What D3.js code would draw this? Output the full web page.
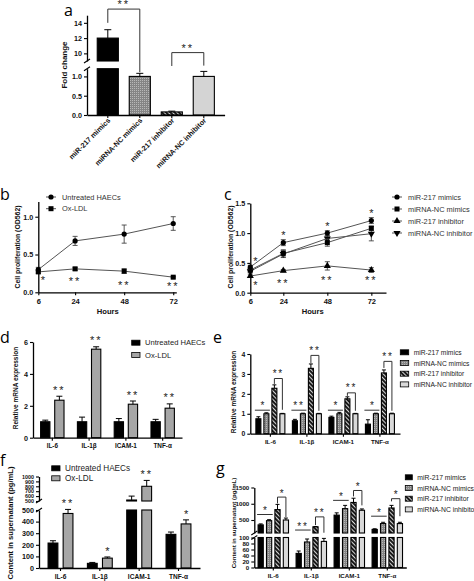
<!DOCTYPE html>
<html><head><meta charset="utf-8">
<script src="https://cdn.jsdelivr.net/npm/d3@7"></script>
<style>body{margin:0;background:#fff;} svg{display:block;font-family:"Liberation Sans",Arial,sans-serif;}</style>
</head><body>
<script>
// ---------------- DATA ----------------
// panel a
const aCats = ["miR-217 mimics","miRNA-NC mimics","miR-217 inhibitor","miRNA-NC inhibitor"];
const aFold = [12.0, 1.0, 0.08, 1.0];
const aSD   = [1.1, 0.08, 0.02, 0.13];
const aLowerTicks = [0, 0.5, 1.0];
const aUpperTicks = [10, 12, 14];
const aBrackets = [ {i:0, j:1, level:15.8, left:14.0, right:1.11, label:"**"},
                    {i:2, j:3, level:10.1, left:1.27, right:1.28, label:"**"} ];
// panel b
const hours = [6, 24, 48, 72];
const bUntreated = [0.30, 0.68, 0.77, 0.91];
const bUntreatedSD = [0.03, 0.06, 0.12, 0.09];
const bOxLDL = [0.27, 0.31, 0.28, 0.20];
const bOxLDLSD = [0.02, 0.02, 0.03, 0.01];
const bStars = ["*", "**", "**", "**"];
const bStarLevel = [0.19, 0.18, 0.12, 0.11];
const bTicks = [0, 0.5, 1.0];
// panel c
const cNames = ["miR-217 mimics","miRNA-NC mimics","miR-217 inhibitor","miRNA-NC inhibitor"];
const cMimics = [0.43, 0.84, 1.00, 1.21];
const cMimicsSD = [0.03, 0.05, 0.04, 0.05];
const cNCMimics = [0.38, 0.66, 0.84, 1.08];
const cNCMimicsSD = [0.03, 0.06, 0.06, 0.04];
const cInhibitor = [0.28, 0.37, 0.45, 0.38];
const cInhibitorSD = [0.02, 0.02, 0.07, 0.04];
const cNCInhibitor = [0.36, 0.65, 0.91, 0.99];
const cNCInhibitorSD = [0.03, 0.06, 0.04, 0.12];
const cTopStars = ["*", "*", "*", "*"];
const cTopLevel = [0.56, 1.01, 1.15, 1.38];
const cBottomStars = ["*", "**", "**", "**"];
const cBottomLevel = [0.17, 0.20, 0.24, 0.24];
const cTicks = [0, 0.5, 1.0, 1.5];
// panel d
const genes = ["IL-6", "IL-1β", "ICAM-1", "TNF-α"];
const dUntreated = [1.0, 1.0, 1.0, 1.0];
const dUntreatedSD = [0.10, 0.29, 0.20, 0.15];
const dOxLDL = [2.35, 5.55, 2.10, 1.85];
const dOxLDLSD = [0.25, 0.15, 0.20, 0.27];
const dStars = ["**", "**", "**", "**"];
const dTicks = [0, 2, 4, 6];
// panel e
const eMimics = [0.75, 0.65, 0.82, 0.48];
const eMimicsSD = [0.10, 0.07, 0.06, 0.22];
const eNCMimics = [1.0, 1.0, 1.0, 1.0];
const eNCMimicsSD = [0.05, 0.03, 0.07, 0.03];
const eInhibitor = [2.28, 3.28, 1.75, 3.05];
const eInhibitorSD = [0.17, 0.22, 0.10, 0.15];
const eNCInhibitor = [1.0, 1.0, 1.0, 1.0];
const eNCInhibitorSD = [0.02, 0.02, 0.02, 0.03];
const eLeftStars = ["*", "**", "*", "*"];
const eLeftLevel = [1.18, 1.18, 1.18, 1.18];
const eRightStars = ["**", "**", "**", "**"];
const eRightLevel = [2.77, 3.93, 2.05, 3.63];
const eRightLegs = [[2.5, 1.2], [3.55, 1.15], [1.9, 1.15], [3.3, 1.15]];
const eTicks = [0, 1, 2, 3, 4];
// panel f
const fUntreated = [215, 40, 520, 290];
const fUntreatedSD = [20, 8, 80, 20];
const fOxLDL = [470, 85, 800, 380];
const fOxLDLSD = [35, 10, 120, 35];
const fStars = ["**", "*", "**", "*"];
const fLowerTicks = [0, 100, 200, 300, 400, 500];
const fUpperTicks = [500, 600, 700, 800, 900, 1000];
// panel g
const gMimics = [350, 47, 650, 210];
const gMimicsSD = [30, 8, 70, 20];
const gNCMimics = [480, 85, 850, 390];
const gNCMimicsSD = [30, 10, 100, 40];
const gInhibitor = [820, 290, 1040, 870];
const gInhibitorSD = [160, 10, 130, 80];
const gNCInhibitor = [500, 87, 800, 390];
const gNCInhibitorSD = [60, 10, 40, 40];
const gLeftStars = ["*", "**", "*", "*"];
const gLeftLevel = [669, 191, 1104, 617];
const gRightStars = ["*", "**", "*", "*"];
const gRightLevel = [1205, 596, 1408, 1156];
const gRightLegs = [[1010, 590], [343, 108], [1226, 950], [1074, 617]];
const gLowerTicks = [0, 20, 40, 60, 80, 100];
const gUpperTicks = [500, 1000, 1500];

// ---------------- DRAWING ----------------
const svg = d3.select("body").append("svg").attr("width", 474).attr("height", 581);
const defs = svg.append("defs");
const pd = defs.append("pattern").attr("id","dots").attr("width",2).attr("height",2).attr("patternUnits","userSpaceOnUse");
pd.append("rect").attr("width",2).attr("height",2).attr("fill","#858585");
pd.append("rect").attr("width",1).attr("height",1).attr("fill","#b8b8b8");
const ph = defs.append("pattern").attr("id","hatch").attr("width",3).attr("height",3).attr("patternUnits","userSpaceOnUse").attr("patternTransform","rotate(-45)");
ph.append("rect").attr("width",3).attr("height",3).attr("fill","#1a1a1a");
ph.append("line").attr("x1",0.5).attr("y1",0).attr("x2",0.5).attr("y2",3).attr("stroke","#d8d8d8").attr("stroke-width",1);

const FOUR_FILLS = ["#000", "url(#dots)", "url(#hatch)", "#d9d9d9"];
const TWO_FILLS = ["#000", "#a6a6a6"];

function styleAxis(sel, fs) {
  sel.select(".domain").attr("stroke", "#000").attr("stroke-width", 1.3);
  sel.selectAll(".tick line").attr("stroke", "#000").attr("stroke-width", 1.1);
  sel.selectAll(".tick text").attr("font-size", fs).attr("font-weight", "bold").attr("fill", "#111")
     .attr("font-family", '"Liberation Sans", Arial, sans-serif');
}
function makeY(segs) {
  segs.forEach(s => s.scale = d3.scaleLinear().domain(s.d).range(s.r));
  const segOf = v => { let s = segs[0]; segs.forEach(t => { if (v > t.d[0]) s = t; }); return s; };
  return { segs, segOf, map: v => segOf(v).scale(v) };
}
function yAxes(g, Y, x, tickSets, fmts, fsList) {
  Y.segs.forEach((s, k) => {
    const ax = g.append("g").attr("transform", `translate(${x},0)`)
      .call(d3.axisLeft(s.scale).tickValues(tickSets[k]).tickFormat(fmts[k]).tickSize(3).tickSizeOuter(0).tickPadding(2));
    styleAxis(ax, fsList[k]);
  });
  for (let k = 0; k < Y.segs.length - 1; k++) {
    const yl = Y.segs[k].scale(Y.segs[k].d[1]);
    const yu = Y.segs[k + 1].scale(Y.segs[k + 1].d[0]);
    [yl, yu].forEach(yy => g.append("line").attr("x1", x - 3).attr("x2", x + 3).attr("y1", yy + 2).attr("y2", yy - 2)
      .attr("stroke", "#000").attr("stroke-width", 1.1));
  }
}
function bar(g, xc, w, v, e, Y, fill, capW) {
  Y.segs.forEach((s, k) => {
    const top = Math.min(v, s.d[1]);
    if (top > s.d[0]) {
      g.append("rect").attr("x", xc - w / 2).attr("width", w).attr("y", s.scale(top))
        .attr("height", s.scale(s.d[0]) - s.scale(top)).attr("fill", fill).attr("stroke", "#000").attr("stroke-width", 1.1);
    }
  });
  const s = Y.segOf(v);
  const y0 = s.scale(v), y1 = s.scale(v + e);
  g.append("line").attr("x1", xc).attr("x2", xc).attr("y1", y0).attr("y2", y1).attr("stroke", "#000").attr("stroke-width", 1);
  g.append("line").attr("x1", xc - capW / 2).attr("x2", xc + capW / 2).attr("y1", y1).attr("y2", y1).attr("stroke", "#000").attr("stroke-width", 1);
}
function star(g, x, yc, txt, fs) {
  g.append("text").attr("x", x).attr("y", yc + fs * 0.55).attr("text-anchor", "middle")
    .attr("font-size", fs).attr("fill", "#222").attr("letter-spacing", txt.length > 1 ? fs * 0.18 : 0).text(txt);
}
function bracket(g, x1, x2, yLevel, yL, yR) {
  g.append("path").attr("d", `M${x1},${yL}V${yLevel}H${x2}V${yR}`).attr("fill", "none").attr("stroke", "#333").attr("stroke-width", 1);
}
function yLabel(g, x, y, txt, fs) {
  g.append("text").attr("transform", `translate(${x},${y}) rotate(-90)`).attr("text-anchor", "middle")
    .attr("dominant-baseline", "central").attr("font-size", fs).attr("font-weight", "bold").attr("fill", "#111").text(txt);
}
function panelLetter(x, y, t) {
  svg.append("text").attr("x", x).attr("y", y).attr("font-family", '"Open Sans", "DejaVu Sans", sans-serif')
    .attr("font-size", 16).attr("fill", "#000").text(t);
}
function marker(g, type, x, y) {
  if (type === "circle") g.append("circle").attr("cx", x).attr("cy", y).attr("r", 2.6).attr("fill", "#000");
  else if (type === "square") g.append("rect").attr("x", x - 2.5).attr("y", y - 2.5).attr("width", 5).attr("height", 5).attr("fill", "#000");
  else {
    const sym = d3.symbol().type(d3.symbolTriangle).size(22)();
    g.append("path").attr("d", sym).attr("fill", "#000")
      .attr("transform", `translate(${x},${y})` + (type === "down" ? " rotate(180)" : ""));
  }
}

// ---------- Panel a ----------
{
  const g = svg.append("g");
  const X = d3.scaleBand().domain(aCats).range([87, 224.6]).paddingInner(0).paddingOuter(0.15);
  const Y = makeY([{ d: [0, 1.2], r: [115, 68.7] }, { d: [9, 15], r: [61, 15.2] }]);
  const fills = ["#000", "url(#dots)", "url(#hatch)", "#d4d4d4"];
  aCats.forEach((c, i) => bar(g, X(c) + X.bandwidth() / 2, X.bandwidth() * 0.66, aFold[i], aSD[i], Y, fills[i], 7));
  yAxes(g, Y, 87, [aLowerTicks, aUpperTicks], [d3.format(".1f"), d3.format("d")], [7.2, 7.2]);
  const xa = g.append("g").attr("transform", "translate(0,115)")
    .call(d3.axisBottom(X).tickSize(3).tickSizeOuter(0).tickFormat(""));
  styleAxis(xa, 7);
  aCats.forEach(c => {
    g.append("text").attr("transform", `translate(${X(c) + X.bandwidth() / 2 + 3},${121}) rotate(-45)`)
      .attr("text-anchor", "end").attr("font-size", 7.2).attr("font-weight", "bold").attr("fill", "#111").text(c);
  });
  aBrackets.forEach(b => {
    const x1 = X(aCats[b.i]) + X.bandwidth() / 2, x2 = X(aCats[b.j]) + X.bandwidth() / 2;
    bracket(g, x1, x2, Y.map(b.level), Y.map(b.left), Y.map(b.right));
    star(g, (x1 + x2) / 2, Y.map(b.level) - 7, b.label, 11);
  });
  yLabel(g, 64, 65, "Fold change", 8);
  panelLetter(64, 16, "a");
}

// ---------- line panels ----------
function linePanel(g, X, Y, series) {
  series.forEach(s => {
    g.append("path").datum(s.vals).attr("fill", "none").attr("stroke", "#555").attr("stroke-width", 1)
      .attr("d", d3.line().x((d, i) => X(hours[i])).y(d => Y(d)));
    s.vals.forEach((v, i) => {
      const x = X(hours[i]);
      g.append("line").attr("x1", x).attr("x2", x).attr("y1", Y(v - s.sd[i])).attr("y2", Y(v + s.sd[i])).attr("stroke", "#444").attr("stroke-width", 0.9);
      [v - s.sd[i], v + s.sd[i]].forEach(e => g.append("line").attr("x1", x - 2.5).attr("x2", x + 2.5).attr("y1", Y(e)).attr("y2", Y(e)).attr("stroke", "#444").attr("stroke-width", 0.9));
      marker(g, s.type, x, Y(v));
    });
  });
}
function lineLegend(g, x, y0, dy, names, types, fs) {
  names.forEach((n, i) => {
    const y = y0 + i * dy;
    g.append("line").attr("x1", x - 5).attr("x2", x + 5).attr("y1", y).attr("y2", y).attr("stroke", "#555");
    marker(g, types[i], x, y);
    g.append("text").attr("x", x + 11).attr("y", y).attr("dominant-baseline", "central").attr("font-size", fs).attr("fill", "#333").text(n);
  });
}

// ---------- Panel b ----------
{
  const g = svg.append("g");
  const X = d3.scaleLinear().domain([6, 73.5]).range([38.3, 176.3]);
  const Y = d3.scaleLinear().domain([0, 1.2]).range([292.3, 201.6]);
  linePanel(g, X, Y, [
    { vals: bUntreated, sd: bUntreatedSD, type: "circle" },
    { vals: bOxLDL, sd: bOxLDLSD, type: "square" }]);
  const ya = g.append("g").attr("transform", "translate(38.3,0)")
    .call(d3.axisLeft(Y).tickValues(bTicks).tickFormat(d3.format(".1f")).tickSize(3).tickSizeOuter(0).tickPadding(2));
  styleAxis(ya, 7.2);
  const xa = g.append("g").attr("transform", "translate(0,292.3)")
    .call(d3.axisBottom(X).tickValues(hours).tickFormat(d3.format("d")).tickSize(3).tickSizeOuter(0).tickPadding(3));
  styleAxis(xa, 7.5);
  hours.forEach((h, i) => star(g, X(h) + (i === 0 ? 4.5 : 0), Y(bStarLevel[i]), bStars[i], 11));
  lineLegend(g, 51, 197, 11.7, ["Untreated HAECs", "Ox-LDL"], ["circle", "square"], 7.4);
  g.append("text").attr("x", X(40)).attr("y", 314).attr("text-anchor", "middle").attr("font-size", 7.6).attr("font-weight", "bold").attr("fill", "#111").text("Hours");
  yLabel(g, 17, 247, "Cell proliferation (OD562)", 6.9);
  panelLetter(0, 200, "b");
}

// ---------- Panel c ----------
{
  const g = svg.append("g");
  const X = d3.scaleLinear().domain([6, 80]).range([250.3, 386]);
  const Y = d3.scaleLinear().domain([0, 1.5]).range([292.7, 203.3]);
  const types = ["circle", "square", "up", "down"];
  linePanel(g, X, Y, [
    { vals: cNCInhibitor, sd: cNCInhibitorSD, type: "down" },
    { vals: cInhibitor, sd: cInhibitorSD, type: "up" },
    { vals: cNCMimics, sd: cNCMimicsSD, type: "square" },
    { vals: cMimics, sd: cMimicsSD, type: "circle" }]);
  const ya = g.append("g").attr("transform", "translate(250.3,0)")
    .call(d3.axisLeft(Y).tickValues(cTicks).tickFormat(d3.format(".1f")).tickSize(3).tickSizeOuter(0).tickPadding(2));
  styleAxis(ya, 7.2);
  const xa = g.append("g").attr("transform", "translate(0,292.7)")
    .call(d3.axisBottom(X).tickValues(hours).tickFormat(d3.format("d")).tickSize(3).tickSizeOuter(0).tickPadding(3));
  styleAxis(xa, 7.5);
  hours.forEach((h, i) => {
    star(g, X(h) + (i === 0 ? 5 : 0), Y(cTopLevel[i]), cTopStars[i], 11);
    star(g, X(h) + (i === 0 ? 5 : 0), Y(cBottomLevel[i]), cBottomStars[i], 11);
  });
  lineLegend(g, 397, 197, 12, cNames, types, 7.4);
  g.append("text").attr("x", X(40)).attr("y", 314).attr("text-anchor", "middle").attr("font-size", 7.6).attr("font-weight", "bold").attr("fill", "#111").text("Hours");
  yLabel(g, 230, 247, "Cell proliferation (OD562)", 6.9);
  panelLetter(224, 200, "c");
}

// ---------- grouped bar helper ----------
function groupedBars(g, X0, X1, Y, series, fills, capW) {
  genes.forEach((gn, gi) => {
    series.forEach((s, si) => {
      const xc = X0(gn) + X1(si) + X1.bandwidth() / 2;
      bar(g, xc, X1.bandwidth(), s.vals[gi], s.sd[gi], Y, fills[si], capW);
    });
  });
}
function xCat(g, X0, y, fs) {
  const xa = g.append("g").attr("transform", `translate(0,${y})`)
    .call(d3.axisBottom(X0).tickSize(3).tickSizeOuter(0).tickPadding(3));
  styleAxis(xa, fs);
}
function swatchLegend(g, x, y0, dy, names, fills, w, h, fs) {
  names.forEach((n, i) => {
    const y = y0 + i * dy;
    g.append("rect").attr("x", x).attr("y", y - h / 2).attr("width", w).attr("height", h).attr("fill", fills[i]).attr("stroke", "#000").attr("stroke-width", 0.8);
    g.append("text").attr("x", x + w + 5).attr("y", y).attr("dominant-baseline", "central").attr("font-size", fs).attr("fill", "#222").text(n);
  });
}

// ---------- Panel d ----------
{
  const g = svg.append("g");
  const X0 = d3.scaleBand().domain(genes).range([33, 182]).paddingInner(0).paddingOuter(0.025);
  const X1 = d3.scaleBand().domain([0, 1]).range([0, X0.bandwidth()]).paddingInner(0.34).paddingOuter(0.475);
  const Y = makeY([{ d: [0, 6], r: [437.7, 342] }]);
  groupedBars(g, X0, X1, Y, [{ vals: dUntreated, sd: dUntreatedSD }, { vals: dOxLDL, sd: dOxLDLSD }], TWO_FILLS, 6);
  yAxes(g, Y, 33, [dTicks], [d3.format("d")], [7.2]);
  xCat(g, X0, 437.7, 6.4);
  genes.forEach((gn, i) => star(g, X0(gn) + X1(1) + X1.bandwidth() / 2, Y.map(dOxLDL[i] + dOxLDLSD[i]) - 8.5, dStars[i], 11));
  swatchLegend(g, 131.7, 342.7, 12.3, ["Untreated HAECs", "Ox-LDL"], TWO_FILLS, 8.3, 5, 7.6);
  yLabel(g, 15, 388, "Relative mRNA expression", 6.5);
  panelLetter(0, 343, "d");
}

// ---------- Panel e ----------
{
  const g = svg.append("g");
  const X0 = d3.scaleBand().domain(genes).range([250.3, 400]).paddingInner(0).paddingOuter(0.05);
  const X1 = d3.scaleBand().domain([0, 1, 2, 3]).range([0, X0.bandwidth()]).paddingInner(0.375).paddingOuter(0.47);
  const Y = makeY([{ d: [0, 4], r: [433.7, 354] }]);
  const series = [{ vals: eMimics, sd: eMimicsSD }, { vals: eNCMimics, sd: eNCMimicsSD },
                  { vals: eInhibitor, sd: eInhibitorSD }, { vals: eNCInhibitor, sd: eNCInhibitorSD }];
  groupedBars(g, X0, X1, Y, series, FOUR_FILLS, 4);
  yAxes(g, Y, 250.3, [eTicks], [d3.format("d")], [6.8]);
  xCat(g, X0, 433.7, 6.2);
  const cx = (gn, si) => X0(gn) + X1(si) + X1.bandwidth() / 2;
  genes.forEach((gn, i) => {
    const xa = X0(gn) + X1(0) - 1, xb = X0(gn) + X1(1) + X1.bandwidth() + 1;
    g.append("line").attr("x1", xa).attr("x2", xb).attr("y1", Y.map(eLeftLevel[i])).attr("y2", Y.map(eLeftLevel[i])).attr("stroke", "#333");
    star(g, (xa + xb) / 2, Y.map(eLeftLevel[i]) - 7, eLeftStars[i], 10);
    bracket(g, cx(gn, 2), cx(gn, 3), Y.map(eRightLevel[i]), Y.map(eRightLegs[i][0]), Y.map(eRightLegs[i][1]));
    star(g, (cx(gn, 2) + cx(gn, 3)) / 2, Y.map(eRightLevel[i]) - 7, eRightStars[i], 10);
  });
  swatchLegend(g, 400.3, 352.3, 10.7, cNames, FOUR_FILLS, 8.4, 5, 6.7);
  yLabel(g, 233, 392, "Relative mRNA expression", 6.5);
  panelLetter(213, 343, "e");
}

// ---------- Panel f ----------
{
  const g = svg.append("g");
  const X0 = d3.scaleBand().domain(genes).range([39, 200]).paddingInner(0).paddingOuter(0.047);
  const X1 = d3.scaleBand().domain([0, 1]).range([0, X0.bandwidth()]).paddingInner(0.35).paddingOuter(0.48);
  const Y = makeY([{ d: [0, 500], r: [568, 510] }, { d: [500, 1000], r: [501, 476.5] }]);
  groupedBars(g, X0, X1, Y, [{ vals: fUntreated, sd: fUntreatedSD }, { vals: fOxLDL, sd: fOxLDLSD }], TWO_FILLS, 6);
  yAxes(g, Y, 39, [fLowerTicks, fUpperTicks], [d3.format("d"), d3.format("d")], [7.2, 5.4]);
  xCat(g, X0, 568, 6.6);
  genes.forEach((gn, i) => {
    const s = Y.segOf(fOxLDL[i]);
    star(g, X0(gn) + X1(1) + X1.bandwidth() / 2, s.scale(fOxLDL[i] + fOxLDLSD[i]) - 8, fStars[i], 11);
  });
  swatchLegend(g, 51.7, 468.3, 10, ["Untreated HAECs", "Ox-LDL"], TWO_FILLS, 8.3, 5, 8.2);
  yLabel(g, 10, 523, "Content in supernatant (pg/mL)", 7.6);
  panelLetter(0, 466, "f");
}

// ---------- Panel g ----------
{
  const g = svg.append("g");
  const X0 = d3.scaleBand().domain(genes).range([254.3, 406.3]).paddingInner(0).paddingOuter(0);
  const X1 = d3.scaleBand().domain([0, 1, 2, 3]).range([0, X0.bandwidth()]).paddingInner(0.38).paddingOuter(0.45);
  const Y = makeY([{ d: [0, 100], r: [567.5, 537.5] }, { d: [100, 1500], r: [533, 487.5] }]);
  const series = [{ vals: gMimics, sd: gMimicsSD }, { vals: gNCMimics, sd: gNCMimicsSD },
                  { vals: gInhibitor, sd: gInhibitorSD }, { vals: gNCInhibitor, sd: gNCInhibitorSD }];
  groupedBars(g, X0, X1, Y, series, FOUR_FILLS, 4);
  yAxes(g, Y, 254.3, [gLowerTicks, gUpperTicks], [d3.format("d"), d3.format("d")], [6.2, 6.2]);
  xCat(g, X0, 567.5, 6.2);
  const cx = (gn, si) => X0(gn) + X1(si) + X1.bandwidth() / 2;
  genes.forEach((gn, i) => {
    const xa = X0(gn) + X1(0) - 1, xb = X0(gn) + X1(1) + X1.bandwidth() + 1;
    g.append("line").attr("x1", xa).attr("x2", xb).attr("y1", Y.map(gLeftLevel[i])).attr("y2", Y.map(gLeftLevel[i])).attr("stroke", "#333");
    star(g, (xa + xb) / 2, Y.map(gLeftLevel[i]) - 6, gLeftStars[i], 10);
    bracket(g, cx(gn, 2), cx(gn, 3), Y.map(gRightLevel[i]), Y.map(gRightLegs[i][0]), Y.map(gRightLegs[i][1]));
    star(g, (cx(gn, 2) + cx(gn, 3)) / 2, Y.map(gRightLevel[i]) - 6, gRightStars[i], 10);
  });
  swatchLegend(g, 405.3, 477.3, 10.7, cNames, FOUR_FILLS, 7, 5, 6.8);
  yLabel(g, 233, 523, "Content in supernatant (pg/mL)", 6.1);
  panelLetter(216, 474, "g");
}
</script>
</body></html>
